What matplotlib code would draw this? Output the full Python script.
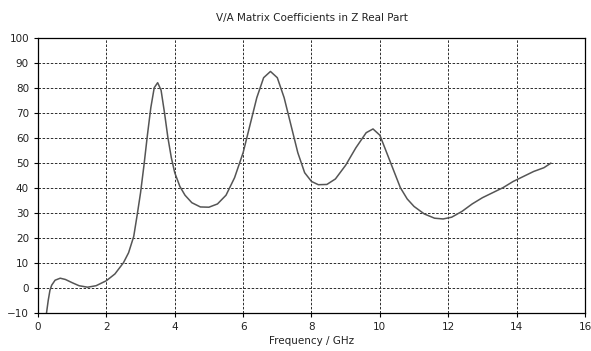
import matplotlib
matplotlib.use('Agg')
import matplotlib.pyplot as plt

# 频率 (GHz) 与 Z 实部数值
freq = [0.25, 0.3, 0.35, 0.4, 0.5, 0.65, 0.8, 1.0, 1.2, 1.45, 1.7, 2.0, 2.25, 2.5,
        2.65, 2.8, 2.9, 3.0, 3.1, 3.2, 3.3, 3.4, 3.5, 3.6, 3.7, 3.8, 3.9, 4.0,
        4.15, 4.3, 4.5, 4.75, 5.0, 5.25, 5.5, 5.75, 6.0, 6.2, 6.4, 6.6, 6.8, 7.0,
        7.2, 7.4, 7.6, 7.8, 8.0, 8.2, 8.45, 8.7, 9.0, 9.3, 9.6, 9.8, 10.0, 10.2,
        10.4, 10.6, 10.8, 11.0, 11.3, 11.6, 11.85, 12.1, 12.4, 12.7, 13.0, 13.3,
        13.6, 13.9, 14.2, 14.5, 14.8, 15.0]
z_real = [-10, -5, -1, 1, 3, 3.8, 3.3, 2, 0.8, 0.2, 0.8, 2.8, 5.5, 10,
          14, 20.5, 29, 38, 49, 61, 72, 80, 82, 79, 70, 60, 52, 46,
          40.5, 37, 34, 32.3, 32.2, 33.5, 37, 44, 54, 65, 76, 84, 86.5, 84,
          76, 65, 54, 46, 42.5, 41.2, 41.3, 43.5, 49, 56, 62, 63.5, 61, 54,
          47, 40, 35.5, 32.5, 29.5, 27.8, 27.5, 28.2, 30.5, 33.5, 36, 38,
          40, 42.5, 44.5, 46.5, 48, 49.8]

x_ticks = [0, 2, 4, 6, 8, 10, 12, 14, 16]
y_ticks = [-10, 0, 10, 20, 30, 40, 50, 60, 70, 80, 90, 100]

fig = plt.figure(figsize=(5.91, 3.51), dpi=100)
ax = fig.add_axes([0.0643, 0.1091, 0.9255, 0.7835])

ax.plot(freq, z_real, color='#555555', lw=1.1)

ax.set_xlim(0, 16)
ax.set_ylim(-10, 100)
ax.set_xticks(x_ticks)
ax.set_yticks(y_ticks)
ax.grid(True, color='#333333', linestyle=(0, (2.5, 1.6)), linewidth=0.72)
ax.tick_params(labelsize=7.5, length=3, width=0.8, colors='black', labelcolor='#222222')
for s in ax.spines.values():
    s.set_linewidth(0.9)

ax.set_title('V/A Matrix Coefficients in Z Real Part', fontsize=7.5, color='#222222', pad=12)
ax.set_xlabel('Frequency / GHz', fontsize=7.5, color='#222222', labelpad=3)

fig.savefig('out.png', dpi=100, facecolor='white')
